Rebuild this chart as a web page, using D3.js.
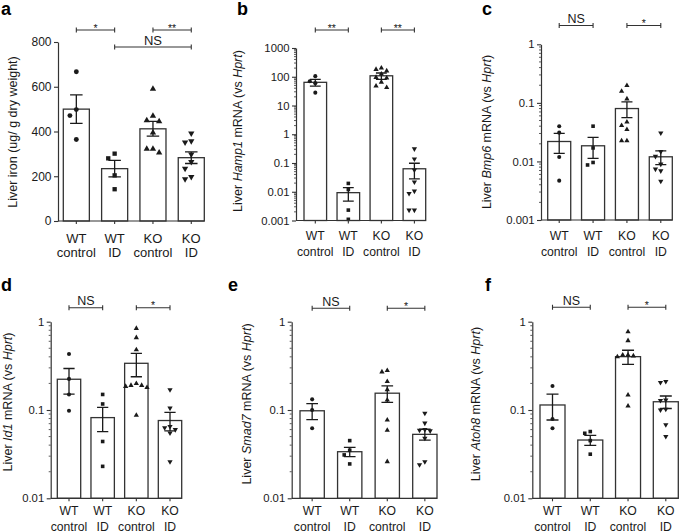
<!DOCTYPE html>
<html><head><meta charset="utf-8">
<script src="https://cdn.jsdelivr.net/npm/d3@7"></script>
<style>
body{margin:0;background:#fff;}
svg text{font-family:"Liberation Sans",Arial,Helvetica,sans-serif;fill:#1a1a1a;}
</style></head><body>
<svg id="chart" width="685" height="532"></svg>
<script>
// ---------------- DATA ----------------
const groups = ["WT control", "WT ID", "KO control", "KO ID"];
const groupLine1 = ["WT", "WT", "KO", "KO"];
const groupLine2 = ["control", "ID", "control", "ID"];

// a: liver iron
const ironMean = [500, 234, 412, 283];
const ironSem = [64, 37, 33, 26];
const ironPts = [
  [667, 498, 471, 364],
  [301, 280, 204, 142],
  [590, 470, 450, 445, 395, 322, 305, 322],
  [392, 357, 352, 298, 264, 234, 187, 197]
];
const ironTicks = [0, 200, 400, 600, 800];
const ironSig = [[0, 1, "*"], [2, 3, "**"], [1, 3, "NS"]];

// b: Hamp1
const hampMean = [64, 0.0093, 108, 0.063];
const hampSem = [16.5, 0.0046, 27, 0.035];
const hampPts = [
  [105, 70, 60, 28],
  [0.0195, 0.012, 0.0023, 0.0011],
  [200, 180, 160, 125, 95, 90, 65, 48, 42],
  [0.31, 0.138, 0.057, 0.022, 0.0105, 0.0087, 0.0023, 0.0023]
];
const hampTicks = [0.001, 0.01, 0.1, 1, 10, 100, 1000];
const hampSig = [[0, 1, "**"], [2, 3, "**"]];

// c: Bmp6
const bmpMean = [0.0219, 0.0185, 0.080, 0.012];
const bmpSem = [0.0082, 0.0072, 0.024, 0.0032];
const bmpPts = [
  [0.040, 0.031, 0.0119, 0.0047],
  [0.040, 0.017, 0.0096, 0.0087],
  [0.198, 0.158, 0.117, 0.047, 0.041, 0.035, 0.0225, 0.0225],
  [0.0305, 0.0147, 0.0122, 0.009, 0.0074, 0.0069, 0.0046]
];
const bmpTicks = [0.001, 0.01, 0.1, 1];
const bmpSig = [[0, 1, "NS"], [2, 3, "*"]];

// d: Id1
const id1Mean = [0.223, 0.082, 0.338, 0.076];
const id1Sem = [0.072, 0.025, 0.10, 0.018];
const id1Pts = [
  [0.43, 0.225, 0.15, 0.098],
  [0.15, 0.117, 0.044, 0.023],
  [0.84, 0.66, 0.48, 0.2, 0.19, 0.185, 0.18, 0.19, 0.087],
  [0.17, 0.105, 0.065, 0.063, 0.06, 0.055, 0.026]
];
const id1Ticks = [0.01, 0.1, 1];
const id1Sig = [[0, 1, "NS"], [2, 3, "*"]];

// e: Smad7
const smadMean = [0.098, 0.0337, 0.155, 0.053];
const smadSem = [0.02, 0.004, 0.033, 0.0075];
const smadPts = [
  [0.132, 0.1, 0.062],
  [0.045, 0.035, 0.031, 0.0245],
  [0.28, 0.27, 0.21, 0.17, 0.13, 0.077, 0.059, 0.026],
  [0.092, 0.071, 0.06, 0.059, 0.058, 0.048, 0.024, 0.026]
];
const smadTicks = [0.01, 0.1, 1];
const smadSig = [[0, 1, "NS"], [2, 3, "*"]];

// f: Atoh8
const atohMean = [0.114, 0.0457, 0.402, 0.124];
const atohSem = [0.037, 0.006, 0.073, 0.02];
const atohPts = [
  [0.187, 0.079, 0.062],
  [0.0545, 0.057, 0.045, 0.0316],
  [0.77, 0.61, 0.42, 0.41, 0.40, 0.42, 0.148, 0.111],
  [0.21, 0.205, 0.13, 0.128, 0.102, 0.1, 0.068, 0.05]
];
const atohTicks = [0.01, 0.1, 1];
const atohSig = [[0, 1, "NS"], [2, 3, "*"]];

// ---------------- PANEL DEFINITIONS ----------------
const panels = [
  {letter: "a", log: false, mean: ironMean, sem: ironSem, pts: ironPts, ticks: ironTicks, sig: ironSig,
   label: [["Liver iron (ug/ g dry weight)", false]]},
  {letter: "b", log: true, mean: hampMean, sem: hampSem, pts: hampPts, ticks: hampTicks, sig: hampSig,
   label: [["Liver ", false], ["Hamp1", true], [" mRNA (vs ", false], ["Hprt", true], [")", false]]},
  {letter: "c", log: true, mean: bmpMean, sem: bmpSem, pts: bmpPts, ticks: bmpTicks, sig: bmpSig,
   label: [["Liver ", false], ["Bmp6", true], [" mRNA (vs ", false], ["Hprt", true], [")", false]]},
  {letter: "d", log: true, mean: id1Mean, sem: id1Sem, pts: id1Pts, ticks: id1Ticks, sig: id1Sig,
   label: [["Liver ", false], ["Id1", true], [" mRNA (vs ", false], ["Hprt", true], [")", false]]},
  {letter: "e", log: true, mean: smadMean, sem: smadSem, pts: smadPts, ticks: smadTicks, sig: smadSig,
   label: [["Liver ", false], ["Smad7", true], [" mRNA (vs ", false], ["Hprt", true], [")", false]]},
  {letter: "f", log: true, mean: atohMean, sem: atohSem, pts: atohPts, ticks: atohTicks, sig: atohSig,
   label: [["Liver ", false], ["Atoh8", true], [" mRNA (vs ", false], ["Hprt", true], [")", false]]}
];

// ---------------- LAYOUT ----------------
const layouts = [
  {lx: 1, ly: 15, x0: 58, bandL: 63.3, bandR: 204.3, pad: 0.32, yTop: 42, yBot: 221,
   ylx: 13, yly: 132, xFont: 13, tickFont: 12, yFont: 12.5, lab1: 243, lab2: 256.5,
   sigY: [30, 30, 47], ms: 1.2},
  {lx: 237, ly: 15, x0: 296, bandL: 304, bandR: 425.7, pad: 0.316, yTop: 48, yBot: 220.5,
   ylx: 238, yly: 131, xFont: 12.2, tickFont: 11.3, yFont: 12.5, lab1: 240, lab2: 255.5,
   sigY: [30, 30], ms: 1},
  {lx: 482, ly: 15, x0: 541, bandL: 547.7, bandR: 672.3, pad: 0.32, yTop: 44.3, yBot: 220,
   ylx: 487, yly: 132, xFont: 12.2, tickFont: 11.3, yFont: 12.5, lab1: 240, lab2: 255.5,
   sigY: [25.5, 25.5], ms: 1},
  {lx: 1, ly: 291, x0: 50.7, bandL: 57.3, bandR: 181.7, pad: 0.305, yTop: 321.7, yBot: 498.3,
   ylx: 8, yly: 402, xFont: 12.2, tickFont: 11.3, yFont: 12.5, lab1: 515, lab2: 530.5,
   sigY: [307.7, 307.7], ms: 1},
  {lx: 228, ly: 291, x0: 291.7, bandL: 300, bandR: 437, pad: 0.353, yTop: 321.7, yBot: 498.3,
   ylx: 246.7, yly: 404, xFont: 12.2, tickFont: 11.3, yFont: 12.5, lab1: 515, lab2: 530.5,
   sigY: [308.3, 308.3], ms: 1},
  {lx: 485, ly: 291, x0: 532.3, bandL: 540, bandR: 678.3, pad: 0.338, yTop: 321.7, yBot: 498.3,
   ylx: 475.7, yly: 404, xFont: 12.2, tickFont: 11.3, yFont: 12.5, lab1: 515, lab2: 530.5,
   sigY: [307.3, 307.3], ms: 1}
];

const INK = "#1a1a1a";
const svg = d3.select("#chart");
const symbolTypes = [d3.symbolCircle, d3.symbolSquare, d3.symbolTriangle, d3.symbolTriangle];
const symbolAreas = [13, 13, 12, 12];

panels.forEach((p, i) => {
  const L = layouts[i];
  const g = svg.append("g");

  const y = (p.log ? d3.scaleLog() : d3.scaleLinear())
    .domain([p.ticks[0], p.ticks[p.ticks.length - 1]])
    .range([L.yBot, L.yTop]);
  const x = d3.scaleBand().domain(groups).range([L.bandL, L.bandR])
    .paddingInner(L.pad).paddingOuter(0);
  const bw = x.bandwidth();

  // panel letter
  g.append("text").attr("x", L.lx).attr("y", L.ly)
    .attr("font-size", 18).attr("font-weight", "bold").style("fill", "#000").text(p.letter);

  // bars
  g.selectAll("rect.bar").data(p.mean).join("rect").attr("class", "bar")
    .attr("x", (d, j) => x(groups[j]))
    .attr("y", d => y(d))
    .attr("width", bw)
    .attr("height", d => L.yBot - y(d))
    .attr("fill", "#fff").attr("stroke", "#333").attr("stroke-width", 1.3);

  // error bars
  const cap = bw * 0.24;
  p.mean.forEach((m, j) => {
    const cx = x(groups[j]) + bw / 2;
    const hi = y(m + p.sem[j]), lo = y(m - p.sem[j]);
    g.append("path")
      .attr("d", `M${cx},${hi}V${lo}M${cx - cap},${hi}H${cx + cap}M${cx - cap},${lo}H${cx + cap}`)
      .attr("stroke", INK).attr("stroke-width", 1.3).attr("fill", "none");
  });

  // points (beeswarm-like dodge)
  p.pts.forEach((vals, j) => {
    const cx = x(groups[j]) + bw / 2;
    const area = symbolAreas[j] * L.ms * L.ms;
    const d = Math.sqrt(area) * 1.25 + 1;
    const items = vals.map(v => ({v, py: y(v)})).sort((a, b) => a.py - b.py);
    const placed = [];
    items.forEach(it => {
      const cands = [0, -1, 1, -2, 2, -3, 3];
      for (const k of cands) {
        const px = k * d;
        const hit = placed.some(q => Math.abs(q.px - px) < d * 0.95 && Math.abs(q.py - it.py) < d * 1.1);
        if (!hit) { it.px = px; break; }
      }
      if (it.px === undefined) it.px = 0;
      placed.push(it);
    });
    const sym = d3.symbol().type(symbolTypes[j]).size(area);
    g.selectAll(null).data(placed).join("path")
      .attr("d", sym)
      .attr("transform", q => `translate(${cx + q.px},${q.py})` + (j === 3 ? " rotate(180)" : ""))
      .attr("fill", INK);
  });

  // y axis
  const fmt = v => p.log ? d3.format("~g")(v) : d3.format("d")(v);
  const yAxis = g.append("g").attr("transform", `translate(${L.x0},0)`)
    .call(d3.axisLeft(y).tickValues(p.ticks).tickFormat(fmt).tickSize(4).tickSizeOuter(0).tickPadding(2.5));
  yAxis.select(".domain").attr("stroke", "#333").attr("stroke-width", 1.2);
  yAxis.selectAll(".tick line").attr("stroke", "#333").attr("stroke-width", 1.1);
  yAxis.selectAll(".tick text").attr("font-size", L.tickFont).attr("font-family", null).style("fill", INK);
  if (p.log) {
    const minors = [];
    const lo = Math.log10(p.ticks[0]), hi = Math.log10(p.ticks[p.ticks.length - 1]);
    for (let e = lo; e < hi; e++) for (let k = 2; k <= 9; k++) minors.push(k * Math.pow(10, e));
    g.selectAll(null).data(minors).join("line")
      .attr("x1", L.x0 - 2).attr("x2", L.x0)
      .attr("y1", v => y(v)).attr("y2", v => y(v))
      .attr("stroke", "#333").attr("stroke-width", 0.8);
  }

  // x axis
  g.append("line").attr("x1", L.x0).attr("x2", L.bandR).attr("y1", L.yBot).attr("y2", L.yBot)
    .attr("stroke", "#333").attr("stroke-width", 1.2);
  const xAxis = g.append("g").attr("transform", `translate(0,${L.yBot})`)
    .call(d3.axisBottom(x).tickSize(3).tickFormat(""));
  xAxis.select(".domain").remove();
  xAxis.selectAll(".tick line").attr("stroke", "#333").attr("stroke-width", 1.1);
  groups.forEach((gname, j) => {
    const cx = x(gname) + bw / 2;
    g.append("text").attr("x", cx).attr("y", L.lab1).attr("text-anchor", "middle")
      .attr("font-size", L.xFont).text(groupLine1[j]);
    g.append("text").attr("x", cx).attr("y", L.lab2).attr("text-anchor", "middle")
      .attr("font-size", L.xFont).text(groupLine2[j]);
  });

  // y label
  const yl = g.append("text")
    .attr("transform", `translate(${L.ylx},${L.yly}) rotate(-90)`)
    .attr("text-anchor", "middle").attr("dy", "0.35em").attr("font-size", L.yFont);
  p.label.forEach(([t, it]) => {
    yl.append("tspan").text(t).attr("font-style", it ? "italic" : null);
  });

  // significance brackets
  p.sig.forEach(([a, b, lab], k) => {
    const x1 = x(groups[a]) + bw / 2, x2 = x(groups[b]) + bw / 2, yb = L.sigY[k];
    g.append("path")
      .attr("d", `M${x1},${yb}H${x2}M${x1},${yb - 2.5}V${yb + 2.5}M${x2},${yb - 2.5}V${yb + 2.5}`)
      .attr("stroke", "#333").attr("stroke-width", 1.1).attr("fill", "none");
    const isNS = lab === "NS";
    g.append("text").attr("x", (x1 + x2) / 2).attr("y", isNS ? yb - 2.5 : yb + 1.5)
      .attr("text-anchor", "middle").attr("font-size", isNS ? (i === 0 ? 13 : 12.5) : 10.5)
      .text(lab);
  });
});
</script>
</body></html>
